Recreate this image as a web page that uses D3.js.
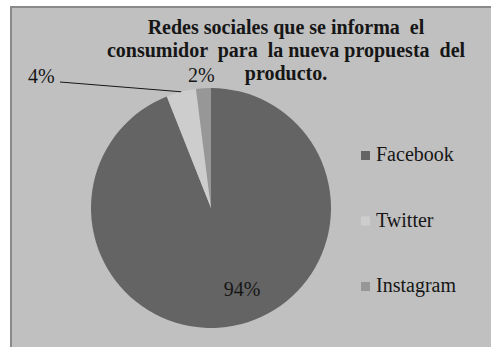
<!DOCTYPE html>
<html>
<head>
<meta charset="utf-8">
<script src="https://cdn.jsdelivr.net/npm/d3@7"></script>
<style>
  body { margin: 0; background: #fff; }
</style>
</head>
<body>
<div id="chart"></div>
<script>
var categories = ["Facebook", "Twitter", "Instagram"]
var values = [94, 4, 2]
var labels = ["94%", "4%", "2%"]
var colors = ["#646464", "#cdcdcd", "#979797"]
var titleLines = ["Redes sociales que se informa  el", "consumidor  para  la nueva propuesta  del", "producto."]

var width = 491, height = 347
var serif = "'Times New Roman', 'Liberation Serif', 'DejaVu Serif', serif"

var svg = d3.select("#chart").append("svg")
  .attr("width", width)
  .attr("height", height)
  .attr("font-family", serif)

// frame
svg.append("rect")
  .attr("x", 11).attr("y", 7)
  .attr("width", width).attr("height", height)
  .attr("fill", "#c0c0c0")
  .attr("stroke", "#8a8a8a")
  .attr("stroke-width", 2)

// title
svg.append("g").selectAll("text")
  .data(titleLines)
  .enter()
  .append("text")
  .attr("x", 286)
  .attr("y", function(d, i) { return 34 + i * 23 })
  .attr("text-anchor", "middle")
  .attr("font-family", serif)
  .attr("fill", "#161616")
  .style("font-size", "20px")
  .style("font-weight", "bold")
  .style("white-space", "pre")
  .text(function(d) { return d })

var cx = 211, cy = 208, r = 120

var data = categories.map(function(c, i) {
  return { name: c, value: values[i], label: labels[i], color: colors[i] }
})

var pie = d3.pie().sort(null).value(function(d) { return d.value })
var arc = d3.arc().innerRadius(0).outerRadius(r)
var arcs = pie(data)

var g = svg.append("g").attr("transform", "translate(" + cx + "," + cy + ")")

g.selectAll("path")
  .data(arcs)
  .enter()
  .append("path")
  .attr("d", arc)
  .attr("fill", function(d) { return d.data.color })

// data labels
var labelPos = {
  "Facebook": [31, 88, "middle"],
  "Twitter": [-183, -125, "start"],
  "Instagram": [-23, -126, "start"]
}

g.selectAll(".lbl")
  .data(arcs)
  .enter()
  .append("text")
  .attr("class", "lbl")
  .attr("x", function(d) { return labelPos[d.data.name][0] })
  .attr("y", function(d) { return labelPos[d.data.name][1] })
  .attr("text-anchor", function(d) { return labelPos[d.data.name][2] })
  .attr("font-family", serif)
  .attr("fill", "#161616")
  .style("font-size", "20px")
  .text(function(d) { return d.data.label })

// leader line for the twitter slice
var tw = arcs[1]
var mid = (tw.startAngle + tw.endAngle) / 2
var ex = Math.sin(mid) * r, ey = -Math.cos(mid) * r
g.append("path")
  .attr("d", "M" + (-151) + "," + (-126) + "L" + ex + "," + ey)
  .attr("fill", "none")
  .attr("stroke", "#161616")
  .attr("stroke-width", 1)

// legend
var legend = svg.append("g").attr("transform", "translate(361,0)")
var item = legend.selectAll("g")
  .data(data)
  .enter()
  .append("g")
  .attr("transform", function(d, i) { return "translate(0," + (161 + i * 65.5) + ")" })

item.append("rect")
  .attr("x", 0).attr("y", -10)
  .attr("width", 9).attr("height", 9)
  .attr("fill", function(d) { return d.color })

item.append("text")
  .attr("x", 15)
  .attr("y", 0)
  .attr("font-family", serif)
  .attr("fill", "#161616")
  .style("font-size", "20px")
  .text(function(d) { return d.name })
</script>
</body>
</html>
